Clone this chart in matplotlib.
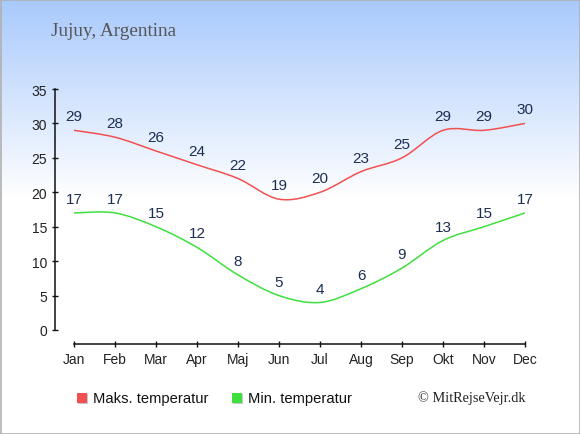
import matplotlib
matplotlib.use('Agg')
import matplotlib.pyplot as plt
from matplotlib.path import Path
from matplotlib.patches import PathPatch, Rectangle
import numpy as np

# ─── Data ───
months = ['Jan', 'Feb', 'Mar', 'Apr', 'Maj', 'Jun',
          'Jul', 'Aug', 'Sep', 'Okt', 'Nov', 'Dec']
max_temp = [29, 28, 26, 24, 22, 19, 20, 23, 25, 29, 29, 30]
min_temp = [17, 17, 15, 12, 8, 5, 4, 6, 9, 13, 15, 17]
y_ticks = [0, 5, 10, 15, 20, 25, 30, 35]

W, H = 580, 435
fig = plt.figure(figsize=(W / 100, H / 100), dpi=100)

# ─── Background gradient (light blue at top -> white) ───
bg = fig.add_axes([0, 0, 1, 1], zorder=0)
bg.axis('off')
top = np.array([0.66, 0.79, 0.99])
rows = np.linspace(0, 1, H)
fade = np.clip(rows / (200 / H), 0, 1)[:, None]
grad = top * (1 - fade) + np.ones(3) * fade
bg.imshow(np.repeat(grad[:, None, :], 2, axis=1), aspect='auto',
          extent=[0, 1, 0, 1], transform=bg.transAxes)
bg.add_patch(Rectangle((0.5 / W, 0.5 / H), 1 - 1.0 / W, 1 - 1.0 / H,
                       transform=bg.transAxes, fill=False,
                       edgecolor='#b0b0b0', lw=1.2))

# ─── Main axes (pixel geometry from reference) ───
ax_l, ax_r, ax_t, ax_b = 55, 525, 90, 331
ax = fig.add_axes([ax_l / W, (H - ax_b) / H, (ax_r - ax_l) / W, (ax_b - ax_t) / H],
                  zorder=1)
ax.patch.set_alpha(0)
x = np.arange(len(months))
step = (525 - 74) / 11
ax.set_xlim(-(74 - 55) / step, 11)
ax.set_ylim(0, 35)

for s in ['top', 'right']:
    ax.spines[s].set_visible(False)
ax.spines['left'].set_bounds(0, 35)
ax.spines['bottom'].set_position(('outward', 10))
ax.spines['bottom'].set_bounds(0, 11)
for s in ['left', 'bottom']:
    ax.spines[s].set_linewidth(1.1)
    ax.spines[s].set_color('#111111')

ax.set_yticks(y_ticks)
ax.set_xticks(x)
ax.set_xticklabels(months)
ax.tick_params(axis='both', direction='inout', length=5, width=1,
               colors='#111111', labelsize=10, labelcolor='#222222')
ax.tick_params(axis='y', pad=3)
ax.tick_params(axis='x', pad=3)
for lab in ax.get_xticklabels() + ax.get_yticklabels():
    lab.set_fontfamily('Liberation Sans')


def smooth_path(xs, ys):
    # Catmull-Rom segments as cubic Bezier curves through the data points
    pts = np.column_stack([xs, ys]).astype(float)
    verts = [pts[0]]
    codes = [Path.MOVETO]
    n = len(pts)
    for i in range(n - 1):
        p0 = pts[i - 1] if i > 0 else pts[i]
        p1 = pts[i]
        p2 = pts[i + 1]
        p3 = pts[i + 2] if i + 2 < n else pts[i + 1]
        c1 = p1 + (p2 - p0) / 6
        c2 = p2 - (p3 - p1) / 6
        verts += [c1, c2, p2]
        codes += [Path.CURVE4] * 3
    return Path(verts, codes)


red = '#f25050'
green = '#3ee03e'
label_col = '#1c2f52'

for vals, col in [(max_temp, red), (min_temp, green)]:
    ax.add_patch(PathPatch(smooth_path(x, vals), facecolor='none',
                           edgecolor=col, lw=1.1, zorder=3))
    for xi, v in zip(x, vals):
        ax.annotate(str(v), (xi, v), xytext=(0, 5), textcoords='offset points',
                    ha='center', va='bottom', fontsize=11, color=label_col,
                    fontfamily='Liberation Sans', annotation_clip=False)

# ─── Title ───
fig.text(51 / W, 1 - 31 / H, 'Jujuy, Argentina', ha='left', va='center',
         fontsize=13.8, color='#555555', fontfamily='Liberation Serif')

# ─── Legend ───
leg_y = 399
for x0, col, txt in [(77, red, 'Maks. temperatur'), (232, green, 'Min. temperatur')]:
    bg.add_patch(Rectangle(((x0 + 1) / W, 1 - (leg_y + 6) / H), 10 / W, 10 / H,
                           transform=bg.transAxes, facecolor='#c8c8c8',
                           edgecolor='none', zorder=2))
    bg.add_patch(Rectangle((x0 / W, 1 - (leg_y + 5) / H), 10 / W, 10 / H,
                           transform=bg.transAxes, facecolor=col,
                           edgecolor='none', zorder=3))
    fig.text((x0 + 16) / W, 1 - leg_y / H, txt, ha='left', va='center',
             fontsize=10.6, color='#111111', fontfamily='Liberation Sans')

fig.text(526 / W, 1 - 398 / H, '© MitRejseVejr.dk', ha='right', va='center',
         fontsize=10.3, color='#222222', fontfamily='Liberation Serif')

fig.savefig('out.png', dpi=100)
plt.close(fig)
